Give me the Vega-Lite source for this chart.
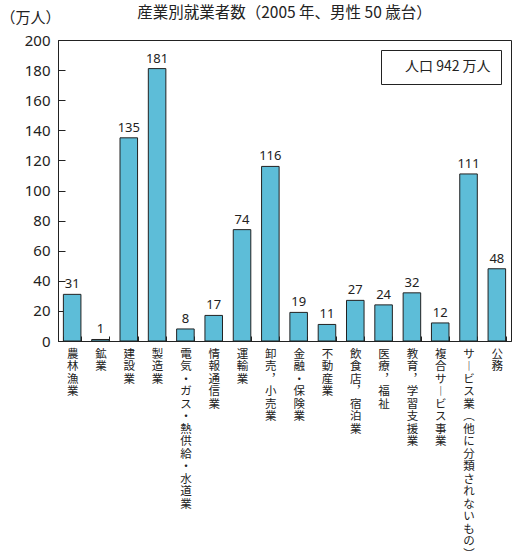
{
  "$schema": "https://vega.github.io/schema/vega-lite/v6.json",
  "width": 453,
  "height": 301,
  "autosize": {"type": "none"},
  "padding": {"left": 58, "top": 40, "right": 1, "bottom": 219},
  "background": "white",
  "config": {
    "font": "Noto Sans CJK JP",
    "view": {"stroke": "#222", "strokeWidth": 1}
  },
  "title": {
    "text": "産業別就業者数（2005 年、男性 50 歳台）",
    "fontSize": 15.5,
    "fontWeight": "normal",
    "color": "#222",
    "anchor": "middle",
    "offset": 8,
    "dy": 19
  },
  "data": {
    "values": [
      {"industry": "農林漁業", "value": 31},
      {"industry": "鉱業", "value": 1},
      {"industry": "建設業", "value": 135},
      {"industry": "製造業", "value": 181},
      {"industry": "電気・ガス・熱供給・水道業", "value": 8},
      {"industry": "情報通信業", "value": 17},
      {"industry": "運輸業", "value": 74},
      {"industry": "卸売，小売業", "value": 116},
      {"industry": "金融・保険業", "value": 19},
      {"industry": "不動産業", "value": 11},
      {"industry": "飲食店，宿泊業", "value": 27},
      {"industry": "医療，福祉", "value": 24},
      {"industry": "教育，学習支援業", "value": 32},
      {"industry": "複合サービス事業", "value": 12},
      {"industry": "サービス業（他に分類されないもの）", "value": 111},
      {"industry": "公務", "value": 48}
    ]
  },
  "encoding": {
    "x": {
      "field": "industry",
      "type": "nominal",
      "sort": null,
      "scale": {"paddingInner": 0.38, "paddingOuter": 0.19},
      "axis": {
        "title": null,
        "labelAngle": 0,
        "labelAlign": "center",
        "labelBaseline": "top",
        "labelFontSize": 11.5,
        "labelLineHeight": 12.5,
        "labelColor": "#222",
        "labelPadding": 12,
        "labelLimit": 0,
        "labelOverlap": false,
        "labelExpr": "split(replace(replace(replace(replace(datum.label, regexp('ー','g'), '︱'), regexp('，','g'), '︐'), regexp('（','g'), '︵'), regexp('）','g'), '︶'), '')",
        "tickBand": "extent",
        "tickSize": -5,
        "tickColor": "#222",
        "domainColor": "#222"
      }
    },
    "y": {
      "field": "value",
      "type": "quantitative",
      "scale": {"domain": [0, 200]},
      "axis": {
        "title": "（万人）",
        "titleAngle": 0,
        "titleAlign": "center",
        "titleBaseline": "middle",
        "titleX": -28,
        "titleY": -23,
        "titleFontSize": 15,
        "titleFontWeight": "normal",
        "titleColor": "#222",
        "values": [0, 20, 40, 60, 80, 100, 120, 140, 160, 180, 200],
        "grid": false,
        "tickSize": -7,
        "tickColor": "#222",
        "domainColor": "#222",
        "labelPadding": 15,
        "labelFontSize": 15,
        "labelColor": "#222",
        "labelFont": "Noto Sans"
      }
    }
  },
  "layer": [
    {
      "mark": {"type": "bar", "stroke": "#222", "strokeWidth": 1},
      "encoding": {
        "color": {
          "datum": "人口 942 万人",
          "scale": {"range": ["#5dbdd8"]},
          "legend": {
            "title": null,
            "orient": "top-right",
            "offset": 10,
            "padding": 10,
            "strokeColor": "#222",
            "fillColor": "white",
            "symbolSize": 0,
            "symbolStrokeWidth": 0,
            "symbolOpacity": 0,
            "labelOffset": 0,
            "labelFontSize": 14,
            "labelColor": "#222"
          }
        }
      }
    },
    {
      "mark": {"type": "text", "baseline": "bottom", "dy": -3, "fontSize": 13, "color": "#222", "font": "Noto Sans"},
      "encoding": {"text": {"field": "value", "type": "quantitative"}}
    }
  ]
}
